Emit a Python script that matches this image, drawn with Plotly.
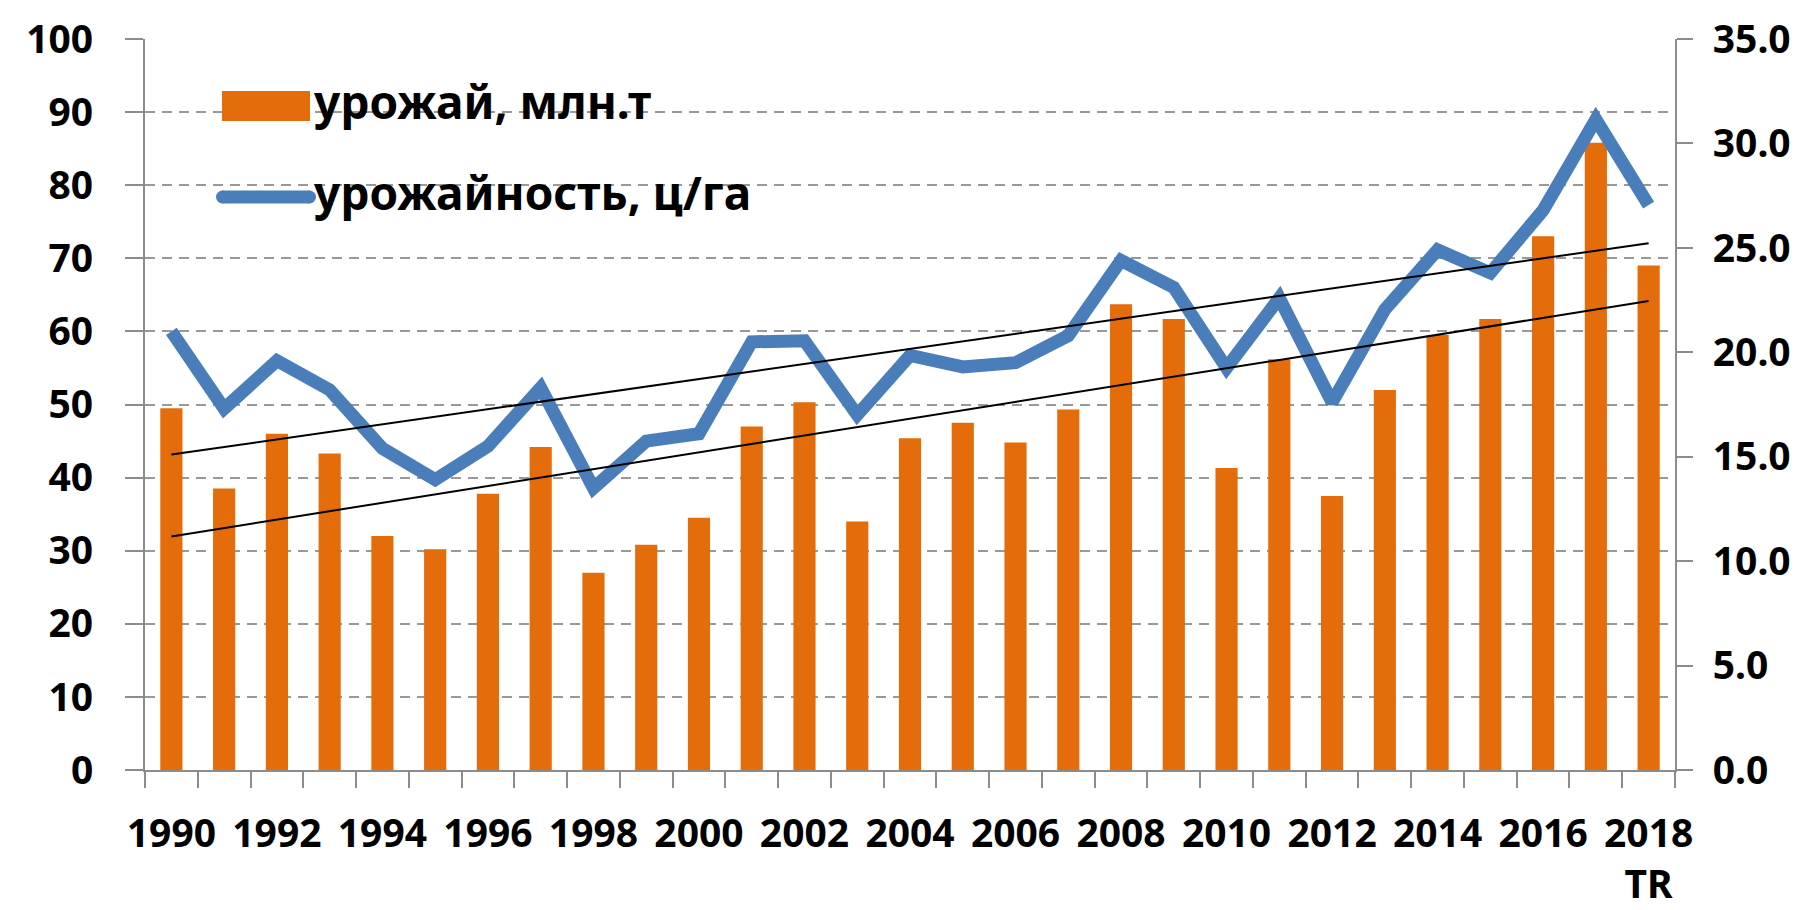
import numpy as np
import plotly.graph_objects as go

# ---------------- data ----------------
years = list(range(1990, 2019))
harvest_mt = [49.5, 38.5, 46.0, 43.3, 32.0, 30.2, 37.8, 44.2, 27.0, 30.8,
              34.5, 47.0, 50.3, 34.0, 45.4, 47.5, 44.8, 49.3, 63.7, 61.7,
              41.3, 56.2, 37.5, 52.0, 59.5, 61.7, 73.0, 85.8, 69.0]
yield_cha = [21.0, 17.3, 19.6, 18.2, 15.4, 13.9, 15.5, 18.3, 13.5, 15.75,
             16.1, 20.5, 20.55, 17.0, 19.85, 19.3, 19.5, 20.8, 24.4, 23.1,
             19.25, 22.6, 17.6, 22.05, 24.9, 23.8, 26.8, 31.15, 27.05]
label_years = list(range(1990, 2019, 2))
label_text = [str(y) for y in label_years[:-1]] + ["2018<br>TR"]
left_ticks = list(range(0, 101, 10))
right_ticks = [0, 5, 10, 15, 20, 25, 30, 35]
name_harvest = "урожай, млн.т"
name_yield = "урожайность, ц/га"

# linear trends (as Excel trendlines)
h_coef = np.polyfit(years, harvest_mt, 1)
y_coef = np.polyfit(years, yield_cha, 1)
trend_x = [years[0], years[-1]]
h_trend = list(np.polyval(h_coef, trend_x))
y_trend = list(np.polyval(y_coef, trend_x))

# ---------------- style ----------------
W, H = 1806, 910
L, R, T, B = 137, 1667, 31, 762
ORANGE = "#E46C0A"
BLUE = "#4A7EBB"
GRID = "#999999"
AX = "#8c8c8c"
FONT = "Noto Sans"


def px(xp):
    return (xp - L) / (R - L)


def py(yp):
    return (B - yp) / (B - T)


fig = go.Figure()
fig.add_trace(go.Bar(x=years, y=harvest_mt, name=name_harvest,
                     marker=dict(color=ORANGE, line=dict(width=0)),
                     width=0.42, yaxis="y", showlegend=False))
fig.add_trace(go.Scatter(x=years, y=yield_cha, name=name_yield, mode="lines",
                         line=dict(color=BLUE, width=13), yaxis="y2",
                         showlegend=False))
fig.add_trace(go.Scatter(x=trend_x, y=y_trend, mode="lines",
                         line=dict(color="black", width=2), yaxis="y2",
                         showlegend=False, hoverinfo="skip"))
fig.add_trace(go.Scatter(x=trend_x, y=h_trend, mode="lines",
                         line=dict(color="black", width=2), yaxis="y3",
                         showlegend=False, hoverinfo="skip"))

tickfont = dict(family=FONT, size=39, color="black", weight="bold")

fig.update_layout(
    width=W, height=H,
    margin=dict(l=L, r=W - R, t=T, b=H - B, autoexpand=False),
    paper_bgcolor="white", plot_bgcolor="white",
    bargap=0.58,
    xaxis=dict(
        range=[1989.5, 2018.5], tickmode="array", tickvals=label_years,
        ticktext=label_text, ticks="", tickfont=tickfont,
        ticklabelstandoff=28,
        showgrid=False, zeroline=False,
        showline=True, linecolor=AX, linewidth=2,
        minor=dict(tickmode="linear", tick0=1989.5, dtick=1, ticks="outside",
                   ticklen=16, tickwidth=2, tickcolor=AX, showgrid=False),
    ),
    yaxis=dict(
        range=[0, 100], tickmode="array", tickvals=left_ticks,
        ticks="outside", ticklen=18, tickwidth=2, tickcolor=AX,
        tickfont=tickfont, ticklabelstandoff=24,
        showgrid=True, gridcolor=GRID, gridwidth=2, griddash="10px,7px",
        zeroline=False, showline=True, linecolor=AX, linewidth=2,
    ),
    yaxis2=dict(
        range=[0, 35], overlaying="y", side="right", tickmode="array",
        tickvals=right_ticks, tickformat=".1f",
        ticks="outside", ticklen=16, tickwidth=2, tickcolor=AX,
        tickfont=tickfont, ticklabelstandoff=12,
        showgrid=False, zeroline=False, showline=True, linecolor=AX,
        linewidth=2,
    ),
    yaxis3=dict(range=[0, 100], overlaying="y", visible=False),
)

# manual legend
shapes = [
    dict(type="rect", xref="paper", yref="paper",
         x0=px(214), x1=px(302), y0=py(113), y1=py(83),
         fillcolor=ORANGE, line=dict(width=0)),
    dict(type="line", xref="paper", yref="paper",
         x0=px(214), x1=px(302), y0=py(189), y1=py(189),
         line=dict(color=BLUE, width=13)),
    dict(type="circle", xref="paper", yref="paper",
         x0=px(208), x1=px(221), y0=py(195.5), y1=py(182.5),
         fillcolor=BLUE, line=dict(width=0)),
    dict(type="circle", xref="paper", yref="paper",
         x0=px(295), x1=px(308), y0=py(195.5), y1=py(182.5),
         fillcolor=BLUE, line=dict(width=0)),
]
legfont = dict(family=FONT, size=46, color="black", weight="bold")
annotations = [
    dict(xref="paper", yref="paper", x=px(303), y=py(93), text=name_harvest,
         showarrow=False, xanchor="left", yanchor="middle", font=legfont),
    dict(xref="paper", yref="paper", x=px(303), y=py(184), text=name_yield,
         showarrow=False, xanchor="left", yanchor="middle", font=legfont),
]
fig.update_layout(shapes=shapes, annotations=annotations)

fig.write_html("out.html")
